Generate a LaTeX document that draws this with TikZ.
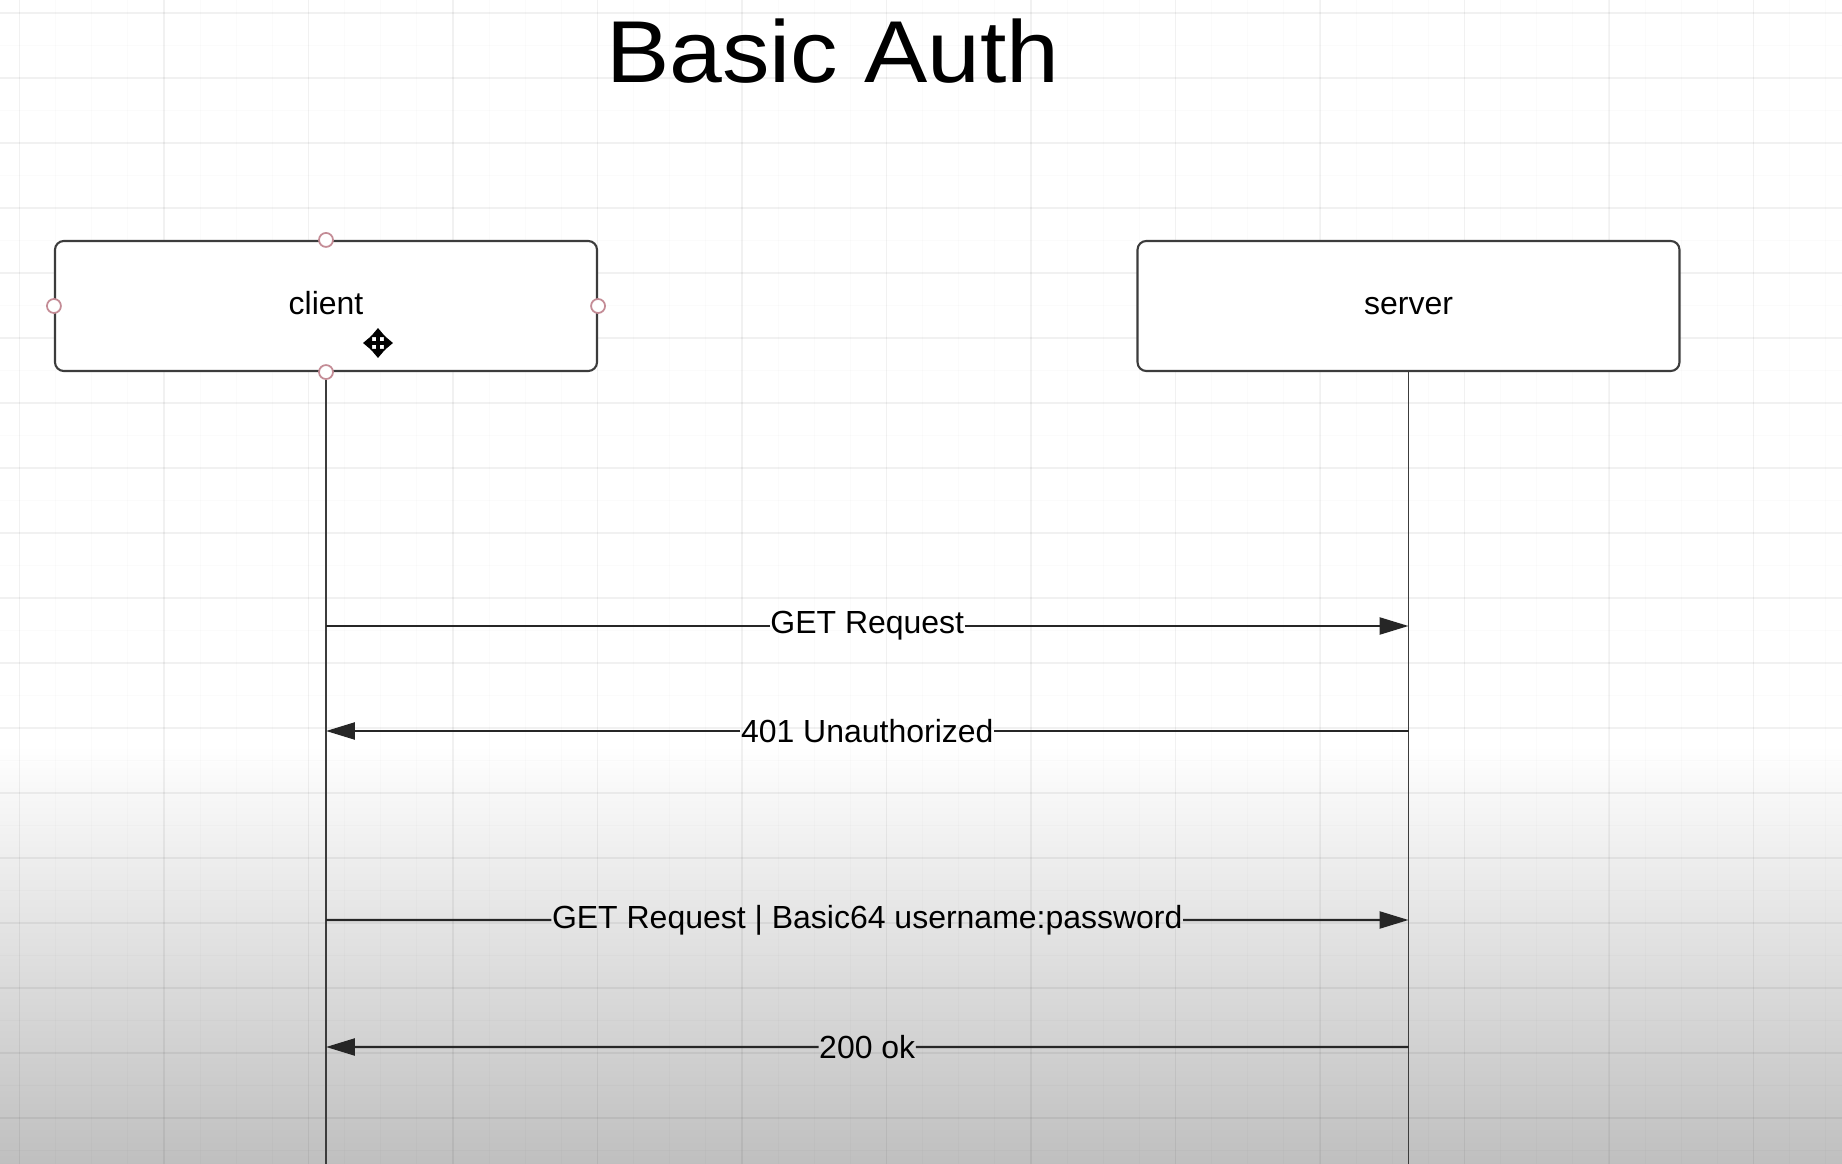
\documentclass[tikz,border=0pt]{standalone}
\usepackage{fontspec}
\setmainfont{Liberation Sans}
\usetikzlibrary{calc}
\usetikzlibrary{arrows.meta}

\definecolor{handlered}{RGB}{196,140,150}
\definecolor{lineg}{RGB}{60,60,60}

\tikzset{
  actor/.style={draw=lineg, line width=0.6pt, rounded corners=2.5pt, fill=white,
    minimum width=5.42cm, minimum height=1.3cm, text height=7pt, text depth=2pt,
    font=\fontsize{9.1}{11}\selectfont},
  lifeline/.style={draw=lineg, line width=0.45pt},
  msg/.style={inner xsep=0pt, inner ysep=0pt, font=\fontsize{9.1}{11}\selectfont},
  link/.style={draw=black!85, line width=0.7pt},
  tip/.style={-{Triangle[length=8.2pt,width=4.8pt]}},
  handle/.style={draw=handlered, fill=white, line width=0.5pt},
  gridmin/.style={black, opacity=0.015, line width=0.3pt},
  gridmaj/.style={black, opacity=0.04, line width=0.4pt},
}

\begin{document}
\begin{tikzpicture}

\useasboundingbox (0,0) rectangle (18.42,-11.64);

% canvas
\fill[white] (0,0) rectangle (18.42,-7.45);
\shade[top color=white,bottom color=black!25] (0,-7.45) rectangle (18.42,-11.64);
\foreach \k in {0,...,50} \draw[gridmin] ({0.195+0.36125*\k},0) -- ++(0,-11.64);
\foreach \k in {0,...,12} \draw[gridmaj] ({0.195+1.445*\k},0) -- ++(0,-11.64);
\foreach \k in {0,...,35} \draw[gridmin] (0,{-0.13-0.325*\k}) -- ++(18.42,0);
\foreach \k in {0,...,17} \draw[gridmaj] (0,{-0.13-0.65*\k}) -- ++(18.42,0);

\node[anchor=base, xscale=1.08, font=\fontsize{25}{30}\selectfont] (title) at (8.33,-0.83) {Basic Auth};

\node[actor] (client) at (3.26,-3.06) {client};
\node[actor] (server) at (14.085,-3.06) {server};

\coordinate (bottom) at (0,-11.64);
\draw[lifeline] (client.south) -- (client.south |- bottom);
\draw[lifeline] (server.south) -- (server.south |- bottom);

% GET
\coordinate (c1) at (client.south |- 0,-6.26);
\coordinate (s1) at (server.south |- 0,-6.26);
\node[msg] (m1) at ($(c1)!0.5!(s1)$) {GET Request};
\draw[link] (c1) -- (m1.west);
\draw[link,tip] (m1.east) -- (s1);

% 401
\coordinate (c2) at (client.south |- 0,-7.31);
\coordinate (s2) at (server.south |- 0,-7.31);
\node[msg] (m2) at ($(c2)!0.5!(s2)$) {401 Unauthorized};
\draw[link] (s2) -- (m2.east);
\draw[link,tip] (m2.west) -- (c2);

% GET with credentials
\coordinate (c3) at (client.south |- 0,-9.20);
\coordinate (s3) at (server.south |- 0,-9.20);
\node[msg] (m3) at ($(c3)!0.5!(s3)$) {GET Request | Basic64 username:password};
\draw[link] (c3) -- (m3.west);
\draw[link,tip] (m3.east) -- (s3);

% 200
\coordinate (c4) at (client.south |- 0,-10.47);
\coordinate (s4) at (server.south |- 0,-10.47);
\node[msg] (m4) at ($(c4)!0.5!(s4)$) {200 ok};
\draw[link] (s4) -- (m4.east);
\draw[link,tip] (m4.west) -- (c4);

% selection handles
\foreach \a in {north,south,east,west} \draw[handle] (client.\a) circle (0.07);

% move cursor
\coordinate (cursor) at (3.78,-3.43);
\draw[line width=0.9pt, {Triangle[length=2.6pt,width=4.2pt]}-{Triangle[length=2.6pt,width=4.2pt]}]
  ($(cursor)+(-0.15,0)$) -- ($(cursor)+(0.15,0)$);
\draw[line width=0.9pt, {Triangle[length=2.6pt,width=4.2pt]}-{Triangle[length=2.6pt,width=4.2pt]}]
  ($(cursor)+(0,-0.15)$) -- ($(cursor)+(0,0.15)$);

\end{tikzpicture}
\end{document}
